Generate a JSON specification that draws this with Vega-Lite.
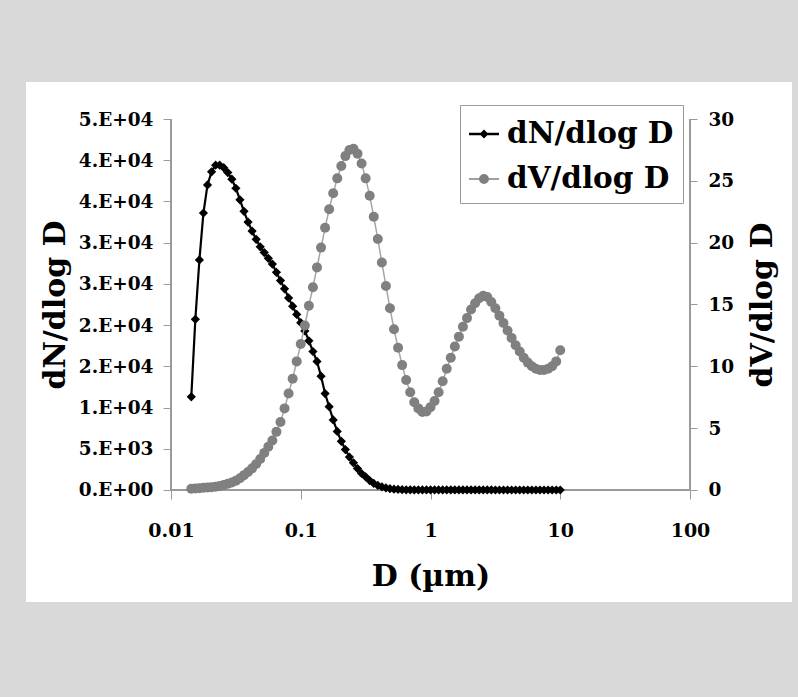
{
  "$schema": "https://vega.github.io/schema/vega-lite/v6.json",
  "width": 766,
  "height": 520,
  "autosize": {"type": "none"},
  "padding": {"left": 26, "top": 82, "right": 6, "bottom": 95},
  "background": "#d9d9d9",
  "view": {"fill": "white", "stroke": null},
  "config": {
    "view": {"fill": "white", "stroke": null},
    "font": "DejaVu Serif",
    "axis": {
      "labelFont": "DejaVu Serif", "labelFontWeight": "bold", "labelColor": "black",
      "titleFont": "DejaVu Serif", "titleFontWeight": "bold", "titleColor": "black",
      "domain": false, "grid": false, "tickColor": "#9a9a9a", "tickWidth": 1,
      "labelOverlap": false, "labelFlush": false
    }
  },
  "data": {"values": [
    {"D": 0.01433, "dN": 11300, "dV": 0.1},
    {"D": 0.0154, "dN": 20700, "dV": 0.12},
    {"D": 0.01655, "dN": 27900, "dV": 0.15},
    {"D": 0.01778, "dN": 33600, "dV": 0.18},
    {"D": 0.01911, "dN": 37000, "dV": 0.2},
    {"D": 0.02054, "dN": 38600, "dV": 0.23},
    {"D": 0.02207, "dN": 39400, "dV": 0.27},
    {"D": 0.02371, "dN": 39400, "dV": 0.32},
    {"D": 0.02548, "dN": 39100, "dV": 0.4},
    {"D": 0.02738, "dN": 38500, "dV": 0.5},
    {"D": 0.02943, "dN": 37700, "dV": 0.6},
    {"D": 0.03162, "dN": 36600, "dV": 0.75},
    {"D": 0.03398, "dN": 35200, "dV": 0.95},
    {"D": 0.03652, "dN": 33800, "dV": 1.2},
    {"D": 0.03924, "dN": 32500, "dV": 1.45},
    {"D": 0.04217, "dN": 31400, "dV": 1.75},
    {"D": 0.04532, "dN": 30400, "dV": 2.1},
    {"D": 0.0487, "dN": 29500, "dV": 2.5},
    {"D": 0.05233, "dN": 28800, "dV": 3.0},
    {"D": 0.05623, "dN": 28100, "dV": 3.5},
    {"D": 0.06043, "dN": 27400, "dV": 4.0},
    {"D": 0.06494, "dN": 26400, "dV": 4.7},
    {"D": 0.06978, "dN": 25400, "dV": 5.5},
    {"D": 0.07499, "dN": 24400, "dV": 6.6},
    {"D": 0.08058, "dN": 23300, "dV": 7.8},
    {"D": 0.0866, "dN": 22300, "dV": 9.0},
    {"D": 0.09306, "dN": 21300, "dV": 10.4},
    {"D": 0.1, "dN": 20300, "dV": 11.8},
    {"D": 0.1075, "dN": 19300, "dV": 13.3},
    {"D": 0.1155, "dN": 18100, "dV": 14.9},
    {"D": 0.1241, "dN": 16800, "dV": 16.4},
    {"D": 0.1334, "dN": 15600, "dV": 18.0},
    {"D": 0.1433, "dN": 13800, "dV": 19.6},
    {"D": 0.154, "dN": 11700, "dV": 21.2},
    {"D": 0.1655, "dN": 10100, "dV": 22.7},
    {"D": 0.1778, "dN": 8500, "dV": 24.0},
    {"D": 0.1911, "dN": 7100, "dV": 25.2},
    {"D": 0.2054, "dN": 5900, "dV": 26.2},
    {"D": 0.2207, "dN": 4900, "dV": 27.0},
    {"D": 0.2371, "dN": 4000, "dV": 27.5},
    {"D": 0.2548, "dN": 3300, "dV": 27.6},
    {"D": 0.2738, "dN": 2600, "dV": 27.2},
    {"D": 0.2943, "dN": 2000, "dV": 26.4},
    {"D": 0.3162, "dN": 1600, "dV": 25.2},
    {"D": 0.3398, "dN": 1150, "dV": 23.8},
    {"D": 0.3652, "dN": 800, "dV": 22.1},
    {"D": 0.3924, "dN": 550, "dV": 20.3},
    {"D": 0.4217, "dN": 380, "dV": 18.4},
    {"D": 0.4532, "dN": 250, "dV": 16.5},
    {"D": 0.487, "dN": 160, "dV": 14.7},
    {"D": 0.5233, "dN": 100, "dV": 13.0},
    {"D": 0.5623, "dN": 65, "dV": 11.5},
    {"D": 0.6043, "dN": 40, "dV": 10.1},
    {"D": 0.6494, "dN": 25, "dV": 8.9},
    {"D": 0.6978, "dN": 16, "dV": 7.9},
    {"D": 0.7499, "dN": 12, "dV": 7.1},
    {"D": 0.8058, "dN": 10, "dV": 6.6},
    {"D": 0.866, "dN": 8, "dV": 6.3},
    {"D": 0.9306, "dN": 7, "dV": 6.35},
    {"D": 1, "dN": 6, "dV": 6.7},
    {"D": 1.075, "dN": 5, "dV": 7.2},
    {"D": 1.155, "dN": 5, "dV": 7.9},
    {"D": 1.241, "dN": 4, "dV": 8.8},
    {"D": 1.334, "dN": 4, "dV": 9.8},
    {"D": 1.433, "dN": 4, "dV": 10.7},
    {"D": 1.54, "dN": 3, "dV": 11.6},
    {"D": 1.655, "dN": 3, "dV": 12.4},
    {"D": 1.778, "dN": 3, "dV": 13.2},
    {"D": 1.911, "dN": 3, "dV": 13.9},
    {"D": 2.054, "dN": 2, "dV": 14.6},
    {"D": 2.207, "dN": 2, "dV": 15.1},
    {"D": 2.371, "dN": 2, "dV": 15.5},
    {"D": 2.548, "dN": 2, "dV": 15.7},
    {"D": 2.738, "dN": 2, "dV": 15.6},
    {"D": 2.943, "dN": 2, "dV": 15.2},
    {"D": 3.162, "dN": 1, "dV": 14.7},
    {"D": 3.398, "dN": 1, "dV": 14.1},
    {"D": 3.652, "dN": 1, "dV": 13.5},
    {"D": 3.924, "dN": 1, "dV": 12.9},
    {"D": 4.217, "dN": 1, "dV": 12.3},
    {"D": 4.532, "dN": 1, "dV": 11.7},
    {"D": 4.87, "dN": 1, "dV": 11.2},
    {"D": 5.233, "dN": 1, "dV": 10.7},
    {"D": 5.623, "dN": 1, "dV": 10.3},
    {"D": 6.043, "dN": 1, "dV": 10.0},
    {"D": 6.494, "dN": 1, "dV": 9.8},
    {"D": 6.978, "dN": 1, "dV": 9.7},
    {"D": 7.499, "dN": 1, "dV": 9.7},
    {"D": 8.058, "dN": 1, "dV": 9.8},
    {"D": 8.66, "dN": 1, "dV": 10.0},
    {"D": 9.306, "dN": 1, "dV": 10.4},
    {"D": 10, "dN": 1, "dV": 11.3}
  ]},
  "layer": [
    {
      "mark": {"type": "rule", "color": "#9a9a9a", "strokeWidth": 1},
      "encoding": {
        "x": {"datum": 0.01, "type": "quantitative", "scale": {"type": "log", "domain": [0.0007627, 611.2], "nice": false}},
        "y": {"datum": 0, "type": "quantitative", "scale": {"domain": [-13585, 49488], "nice": false, "zero": false}, "axis": null},
        "y2": {"datum": 45000}
      }
    },
    {
      "mark": {"type": "rule", "color": "#9a9a9a", "strokeWidth": 1},
      "encoding": {
        "x": {"datum": 100, "type": "quantitative", "scale": {"type": "log", "domain": [0.0007627, 611.2], "nice": false}},
        "y": {"datum": 0, "type": "quantitative", "scale": {"domain": [-13585, 49488], "nice": false, "zero": false}, "axis": null},
        "y2": {"datum": 45000}
      }
    },
    {
      "mark": {"type": "rule", "color": "#9a9a9a", "strokeWidth": 1},
      "encoding": {
        "x": {"datum": 0.01, "type": "quantitative", "scale": {"type": "log", "domain": [0.0007627, 611.2], "nice": false}},
        "x2": {"datum": 100},
        "y": {"datum": 0, "type": "quantitative", "scale": {"domain": [-13585, 49488], "nice": false, "zero": false}, "axis": null}
      }
    },
    {
      "mark": {"type": "line", "color": "black", "strokeWidth": 2.2},
      "encoding": {
        "x": {"field": "D", "type": "quantitative", "scale": {"type": "log", "domain": [0.0007627, 611.2], "nice": false},
          "axis": {"orient": "bottom", "values": [0.01, 0.1, 1, 10, 100],
            "labelExpr": "datum.value < 1 ? format(datum.value, '.2~f') : format(datum.value, 'd')",
            "title": "D (µm)", "offset": -112,
            "tickSize": 9, "labelPadding": 22, "labelFontSize": 19, "titleFontSize": 30, "titlePadding": 21, "titleX": 404.5}},
        "y": {"field": "dN", "type": "quantitative", "scale": {"domain": [-13585, 49488], "nice": false, "zero": false},
          "axis": {"orient": "left", "values": [0, 5000, 10000, 15000, 20000, 25000, 30000, 35000, 40000, 45000],
            "labelExpr": "['0.E+00','5.E+03','1.E+04','2.E+04','2.E+04','3.E+04','3.E+04','4.E+04','4.E+04','5.E+04'][round(datum.value/5000)]",
            "title": "dN/dlog D", "offset": -145, "tickSize": 8, "labelPadding": 10, "labelFontSize": 18.5,
            "titleFontSize": 30, "titlePadding": 8, "titleY": 222.5}}
      }
    },
    {
      "mark": {"type": "point", "shape": "diamond", "filled": true, "color": "black", "size": 85, "opacity": 1},
      "encoding": {
        "x": {"field": "D", "type": "quantitative", "scale": {"type": "log", "domain": [0.0007627, 611.2], "nice": false}},
        "y": {"field": "dN", "type": "quantitative", "scale": {"domain": [-13585, 49488], "nice": false, "zero": false}, "axis": null}
      }
    },
    {
      "mark": {"type": "line", "color": "#a6a6a6", "strokeWidth": 1.5},
      "encoding": {
        "x": {"field": "D", "type": "quantitative", "scale": {"type": "log", "domain": [0.0007627, 611.2], "nice": false}},
        "y": {"field": "dV", "type": "quantitative", "scale": {"domain": [-9.057, 32.992], "nice": false, "zero": false},
          "axis": {"orient": "right", "values": [0, 5, 10, 15, 20, 25, 30], "title": "dV/dlog D", "offset": -102,
            "tickSize": 7, "labelPadding": 11, "labelFontSize": 18.5, "titleFontSize": 30, "titleAngle": 270,
            "titleBaseline": "top", "titlePadding": 14, "titleY": 222.5}}
      }
    },
    {
      "mark": {"type": "point", "shape": "circle", "filled": true, "color": "#808080", "size": 100, "opacity": 1},
      "encoding": {
        "x": {"field": "D", "type": "quantitative", "scale": {"type": "log", "domain": [0.0007627, 611.2], "nice": false}},
        "y": {"field": "dV", "type": "quantitative", "scale": {"domain": [-9.057, 32.992], "nice": false, "zero": false}, "axis": null}
      }
    },
    {
      "transform": [{"filter": "false"}],
      "mark": {"type": "point", "filled": true, "opacity": 1},
      "encoding": {
        "color": {"field": "key", "type": "nominal",
          "scale": {"domain": ["dN/dlog D", "dV/dlog D"], "range": ["black", "#808080"]},
          "legend": {"title": " ", "titleFontSize": 1, "titlePadding": 4, "orient": "none", "legendX": 434, "legendY": 23, "direction": "vertical",
            "strokeColor": "#9a9a9a", "fillColor": "white", "padding": 9,
            "labelFont": "DejaVu Serif", "labelFontWeight": "bold", "labelFontSize": 29.5, "labelColor": "black",
            "labelOffset": 8, "labelLimit": 400, "symbolSize": 900, "symbolStrokeWidth": 0, "symbolOpacity": 1, "rowPadding": 15}},
        "shape": {"field": "key", "type": "nominal",
          "scale": {"domain": ["dN/dlog D", "dV/dlog D"],
            "range": ["M-1,-0.08H1V0.08H-1Z M0,-0.3L0.3,0L0,0.3L-0.3,0Z",
                      "M-1,-0.05H1V0.05H-1Z M0.33,0A0.33,0.33 0 1 1 -0.33,0A0.33,0.33 0 1 1 0.33,0Z"]},
          "legend": {"title": " ", "titleFontSize": 1, "titlePadding": 4, "orient": "none", "legendX": 434, "legendY": 23, "direction": "vertical",
            "strokeColor": "#9a9a9a", "fillColor": "white", "padding": 9,
            "labelFont": "DejaVu Serif", "labelFontWeight": "bold", "labelFontSize": 29.5, "labelColor": "black",
            "labelOffset": 8, "labelLimit": 400, "symbolSize": 900, "symbolStrokeWidth": 0, "symbolOpacity": 1, "rowPadding": 15}}
      }
    }
  ],
  "resolve": {"scale": {"y": "independent"}, "axis": {"y": "independent"}}
}
